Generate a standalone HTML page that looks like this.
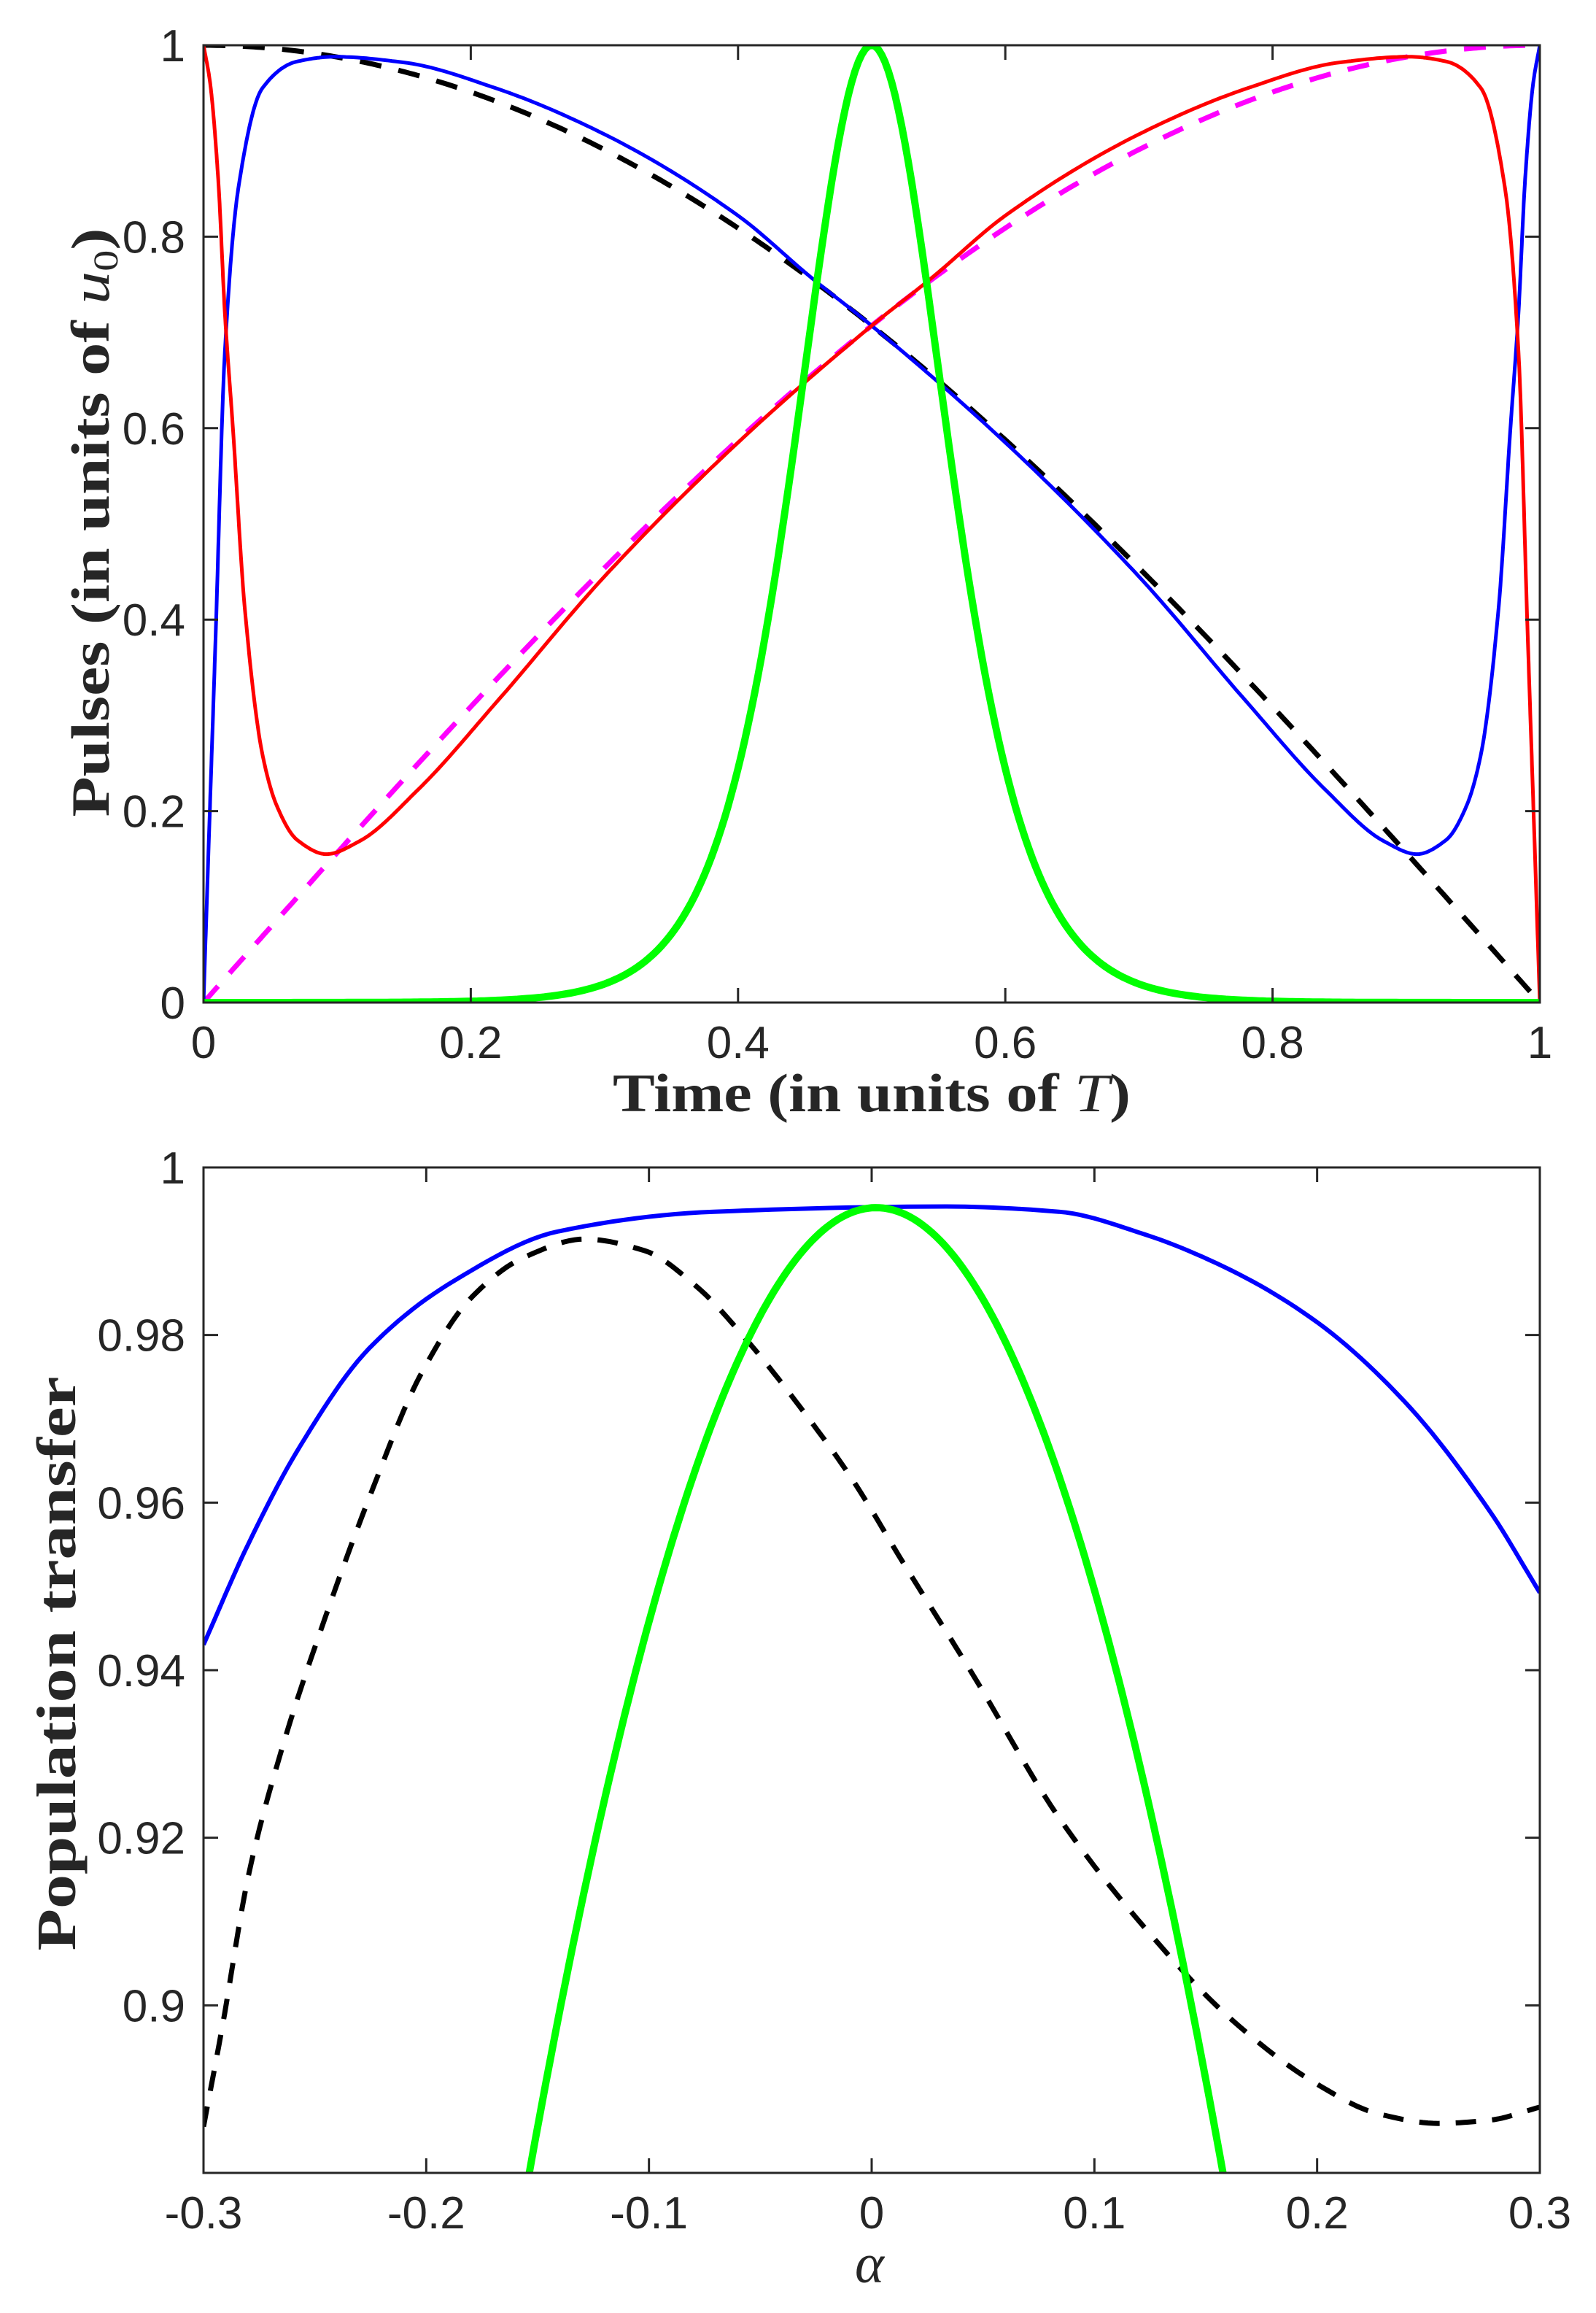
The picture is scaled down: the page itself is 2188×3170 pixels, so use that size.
<!DOCTYPE html>
<html><head><meta charset="utf-8"><style>
html,body{margin:0;padding:0;background:#fff;}
svg{display:block;}
text{font-family:"Liberation Sans",Arial,sans-serif;fill:#262626;}
.tk{font-size:62px;}
.lab{font-family:"Liberation Serif",serif;font-weight:bold;fill:#262626;}
</style></head><body>
<svg id="s" width="2188" height="3170" viewBox="0 0 2188 3170" xmlns="http://www.w3.org/2000/svg">
<defs>
<clipPath id="c1"><rect x="279" y="62" width="1832" height="1312"/></clipPath>
<clipPath id="c2"><rect x="279" y="1600" width="1832" height="1378"/></clipPath>
</defs>
<rect width="2188" height="3170" fill="#fff"/>
<g id="gtop" clip-path="url(#c1)"></g>
<g id="gbot" clip-path="url(#c2)"></g>
<g id="axes" stroke="#262626" stroke-width="3" fill="none">
<rect x="279" y="62" width="1832" height="1312"/>
<rect x="279" y="1600" width="1832" height="1378"/>
</g>
<g id="lbl"></g>
<text class="lab" x="1195" y="1523" font-size="74" text-anchor="middle" textLength="710" lengthAdjust="spacingAndGlyphs">Time (in units of <tspan font-style="italic" font-weight="normal">T</tspan>)</text>
<text class="lab" font-size="74" text-anchor="middle" transform="translate(149,716) rotate(-90)" textLength="807" lengthAdjust="spacingAndGlyphs">Pulses (in units of <tspan font-style="italic" font-weight="normal">u</tspan><tspan font-size="48" font-weight="normal" dy="12">0</tspan><tspan dy="-12">)</tspan></text>
<text class="lab" font-size="76" text-anchor="middle" transform="translate(103,2280) rotate(-90)" textLength="787" lengthAdjust="spacingAndGlyphs">Population transfer</text>
<text x="1192" y="3128" font-size="76" text-anchor="middle" style="font-family:'Liberation Serif',serif;font-style:italic;fill:#262626">α</text>
</svg>
<script>
(function(){
var NS="http://www.w3.org/2000/svg";
function el(p,tag,a,txt){var e=document.createElementNS(NS,tag);for(var k in a)e.setAttribute(k,a[k]);if(txt!==undefined)e.textContent=txt;p.appendChild(e);return e;}
function pchip(P,n){var N=P.length,h=[],dl=[],m=[];for(var i=0;i<N-1;i++){h.push(P[i+1][0]-P[i][0]);dl.push((P[i+1][1]-P[i][1])/h[i]);}
 for(var i=0;i<N;i++){if(i==0)m.push(dl[0]);else if(i==N-1)m.push(dl[N-2]);else{var a=dl[i-1],b=dl[i];if(a*b<=0)m.push(0);else{var w1=2*h[i]+h[i-1],w2=h[i]+2*h[i-1];m.push((w1+w2)/(w1/a+w2/b));}}}
 var out=[];for(var i=0;i<N-1;i++){for(var j=0;j<n;j++){var s=j/n,s2=s*s,s3=s2*s;var y=(2*s3-3*s2+1)*P[i][1]+(s3-2*s2+s)*h[i]*m[i]+(-2*s3+3*s2)*P[i+1][1]+(s3-s2)*h[i]*m[i+1];out.push([P[i][0]+s*h[i],y]);}}out.push(P[N-1]);return out;}
function pd(pts){return "M"+pts.map(function(p){return p[0].toFixed(1)+","+p[1].toFixed(1);}).join("L");}
var axes=document.getElementById("axes"),lbl=document.getElementById("lbl");
function TX(t){return 279+1832*t;} function TY(v){return 1374-1312*v;}
for(var i=0;i<=5;i++){var v=i*0.2,x=TX(v),y=TY(v);
 el(axes,"line",{x1:x,y1:1374,x2:x,y2:1354});el(axes,"line",{x1:x,y1:62,x2:x,y2:82});
 el(axes,"line",{x1:279,y1:y,x2:299,y2:y});el(axes,"line",{x1:2111,y1:y,x2:2091,y2:y});
 var s=(i==0?"0":i==5?"1":v.toFixed(1));
 el(lbl,"text",{"class":"tk",x:x,y:1450,"text-anchor":"middle"},s);
 el(lbl,"text",{"class":"tk",x:254,y:y+22,"text-anchor":"end"},s);}
function BX(a){return 279+1832*(a+0.3)/0.6;} function BY(v){return 1600+1378*(1-v)/0.12;}
for(var i=0;i<=6;i++){var a=-0.3+0.1*i,x=BX(a);
 el(axes,"line",{x1:x,y1:2978,x2:x,y2:2958});el(axes,"line",{x1:x,y1:1600,x2:x,y2:1620});
 var s=Math.abs(a)<1e-9?"0":a.toFixed(1);
 el(lbl,"text",{"class":"tk",x:x,y:3054,"text-anchor":"middle"},s);}
var yl=["0.9","0.92","0.94","0.96","0.98","1"];
for(var i=0;i<=5;i++){var v=0.9+0.02*i,y=BY(v);
 el(axes,"line",{x1:279,y1:y,x2:299,y2:y});el(axes,"line",{x1:2111,y1:y,x2:2091,y2:y});
 el(lbl,"text",{"class":"tk",x:254,y:y+22,"text-anchor":"end"},yl[i]);}
var gt=document.getElementById("gtop");
var blk=[],mag=[],grn=[];
for(var i=0;i<=400;i++){var t=i/400;blk.push([TX(t),TY(Math.cos(Math.PI*t/2))]);mag.push([TX(t),TY(Math.sin(Math.PI*t/2))]);var c=Math.cosh(13.3*(t-0.5));grn.push([TX(t),TY(1/(c*c))]);}
var bp=[[0,0],[0.004,0.17],[0.009,0.38],[0.016,0.68],[0.026,0.85],[0.044,0.955],[0.07,0.983],[0.098,0.988],[0.15,0.982],[0.219,0.955],[0.3,0.907],[0.4,0.822],[0.455,0.757],[0.5,0.707],[0.6,0.585],[0.7,0.445],[0.78,0.315],[0.839,0.223],[0.884,0.168],[0.908,0.155],[0.93,0.17],[0.945,0.205],[0.956,0.26],[0.969,0.41],[0.978,0.6],[0.984,0.72],[0.989,0.86],[0.995,0.96],[1,1]];
var bd=pchip(bp,24);
var bluePts=bd.map(function(p){return [TX(p[0]),TY(p[1])];});
var redPts=bd.map(function(p){return [TX(1-p[0]),TY(p[1])];});
el(gt,"path",{d:pd(blk),stroke:"#000",fill:"none","stroke-width":7,"stroke-dasharray":"30 24"});
el(gt,"path",{d:pd(mag),stroke:"#ff00ff",fill:"none","stroke-width":7,"stroke-dasharray":"30 24"});
el(gt,"path",{d:pd(bluePts),stroke:"#0000ff",fill:"none","stroke-width":5,"stroke-linejoin":"round"});
el(gt,"path",{d:pd(redPts),stroke:"#ff0000",fill:"none","stroke-width":5,"stroke-linejoin":"round"});
el(gt,"path",{d:pd(grn),stroke:"#00ff00",fill:"none","stroke-width":10,"stroke-linejoin":"round"});
var gb=document.getElementById("gbot");
function P(p){return [279+1832*(p[0]-8)/1550,1600+1378*(p[1]-12)/1544];}
var bb=[[8,745],[60,590],[120,440],[200,290],[300,185],[420,110],[600,80],[870,72],[1000,80],[1100,115],[1200,170],[1300,250],[1400,370],[1500,540],[1558,665]];
var bk=[[8,1485],[30,1330],[60,1100],[100,900],[150,700],[200,520],[260,330],[320,210],[380,150],[450,122],[520,140],[580,195],[640,280],[700,380],[760,490],[820,620],[900,790],[1000,1010],[1100,1180],[1200,1320],[1300,1420],[1370,1465],[1440,1480],[1500,1475],[1558,1455]];
var gg=[];for(var i=0;i<=200;i++){var a=-0.168+0.336*i/200;var da=a-0.002;var v=0.9952-4.75*da*da;gg.push([BX(a),BY(v)]);}
el(gb,"path",{d:pd(pchip(bk.map(P),12)),stroke:"#000",fill:"none","stroke-width":7,"stroke-dasharray":"28 22"});
el(gb,"path",{d:pd(pchip(bb.map(P),12)),stroke:"#0000ff",fill:"none","stroke-width":6});
el(gb,"path",{d:pd(gg),stroke:"#00ff00",fill:"none","stroke-width":10});
})();
</script>
</body></html>
